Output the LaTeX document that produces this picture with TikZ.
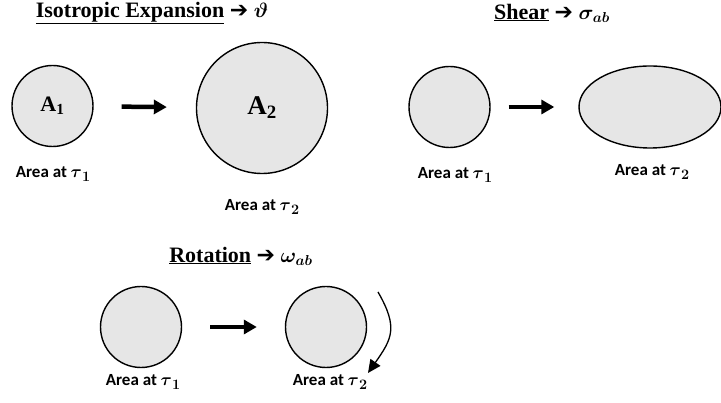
\documentclass[tikz,border=0pt]{standalone}
\usepackage{fontspec}
\usepackage{bm}
\setmainfont{Liberation Serif}
\newfontfamily\areafont{Carlito}
\newfontfamily\arrowfont{DejaVu Sans}
\usetikzlibrary{arrows.meta,shapes.geometric}
\definecolor{blobgray}{RGB}{230,230,230}
\newcommand{\ttlarrow}{{\arrowfont\bfseries ➔}}
\newcommand{\areatau}[1]{{\fontsize{19}{20}\selectfont$\tau$}\raisebox{-3.5pt}{\fontsize{14}{14}\selectfont$#1$}}

\begin{document}
\begin{tikzpicture}[
  x=1pt, y=1pt,
  blob/.style={draw, circle, line width=1.4pt, fill=blobgray, minimum size=81pt, inner sep=0pt},
  oval/.style={draw, ellipse, line width=1.4pt, fill=blobgray, minimum width=142pt, minimum height=82pt, inner sep=0pt},
  heading/.style={font=\fontsize{22}{26}\selectfont\bfseries\boldmath},
  area/.style={font=\fontsize{17}{20}\selectfont\areafont\bfseries\boldmath},
  push/.style={line width=4.5pt, -{Triangle[length=13pt,width=14pt]}}
]
  \useasboundingbox (0,0) rectangle (721,-403);

  % isotropic expansion
  \node[heading] (isoTitle) at (152,-13) {\underline{Isotropic Expansion} \ttlarrow{} $\vartheta$};
  \node[blob] (a1) at (52.5,-106) {\fontsize{22}{24}\selectfont\bfseries A\textsubscript{1}};
  \node[blob, minimum size=131pt] (a2) at (262,-108) {\fontsize{27}{30}\selectfont\bfseries A\textsubscript{2}};
  \node[area] (a1lbl) at (53,-174) {Area at \areatau{1}};
  \node[area] (a2lbl) at (262,-207) {Area at \areatau{2}};
  \draw[push, shorten <=28pt, shorten >=29pt] (a1) -- (a2);

  % shear
  \node[heading] (shearTitle) at (552,-13) {\underline{Shear} \ttlarrow{} $\sigma_{ab}$};
  \node[blob] (s1) at (449.5,-107) {};
  \node[oval] (s2) at (650,-107) {};
  \node[area] (s1lbl) at (455,-175) {Area at \areatau{1}};
  \node[area] (s2lbl) at (652,-172) {Area at \areatau{2}};
  \draw[push, shorten <=18pt, shorten >=24pt] (s1) -- (s2);

  % rotation
  \node[heading] (rotTitle) at (241,-256) {\underline{Rotation} \ttlarrow{} $\omega_{ab}$};
  \node[blob] (r1) at (141,-327) {};
  \node[blob] (r2) at (326,-327) {};
  \node[area] (r1lbl) at (143,-382) {Area at \areatau{1}};
  \node[area] (r2lbl) at (330,-382) {Area at \areatau{2}};
  \draw[push, shorten <=28pt, shorten >=28pt] (r1) -- (r2);
  \coordinate (spinA) at (378,-292);
  \coordinate (spinB) at (368,-373);
  \draw[line width=1.3pt, -{Triangle[length=13pt,width=12pt]}] (spinA) to[out=-60, in=55, looseness=1.3] (spinB);
\end{tikzpicture}
\end{document}
